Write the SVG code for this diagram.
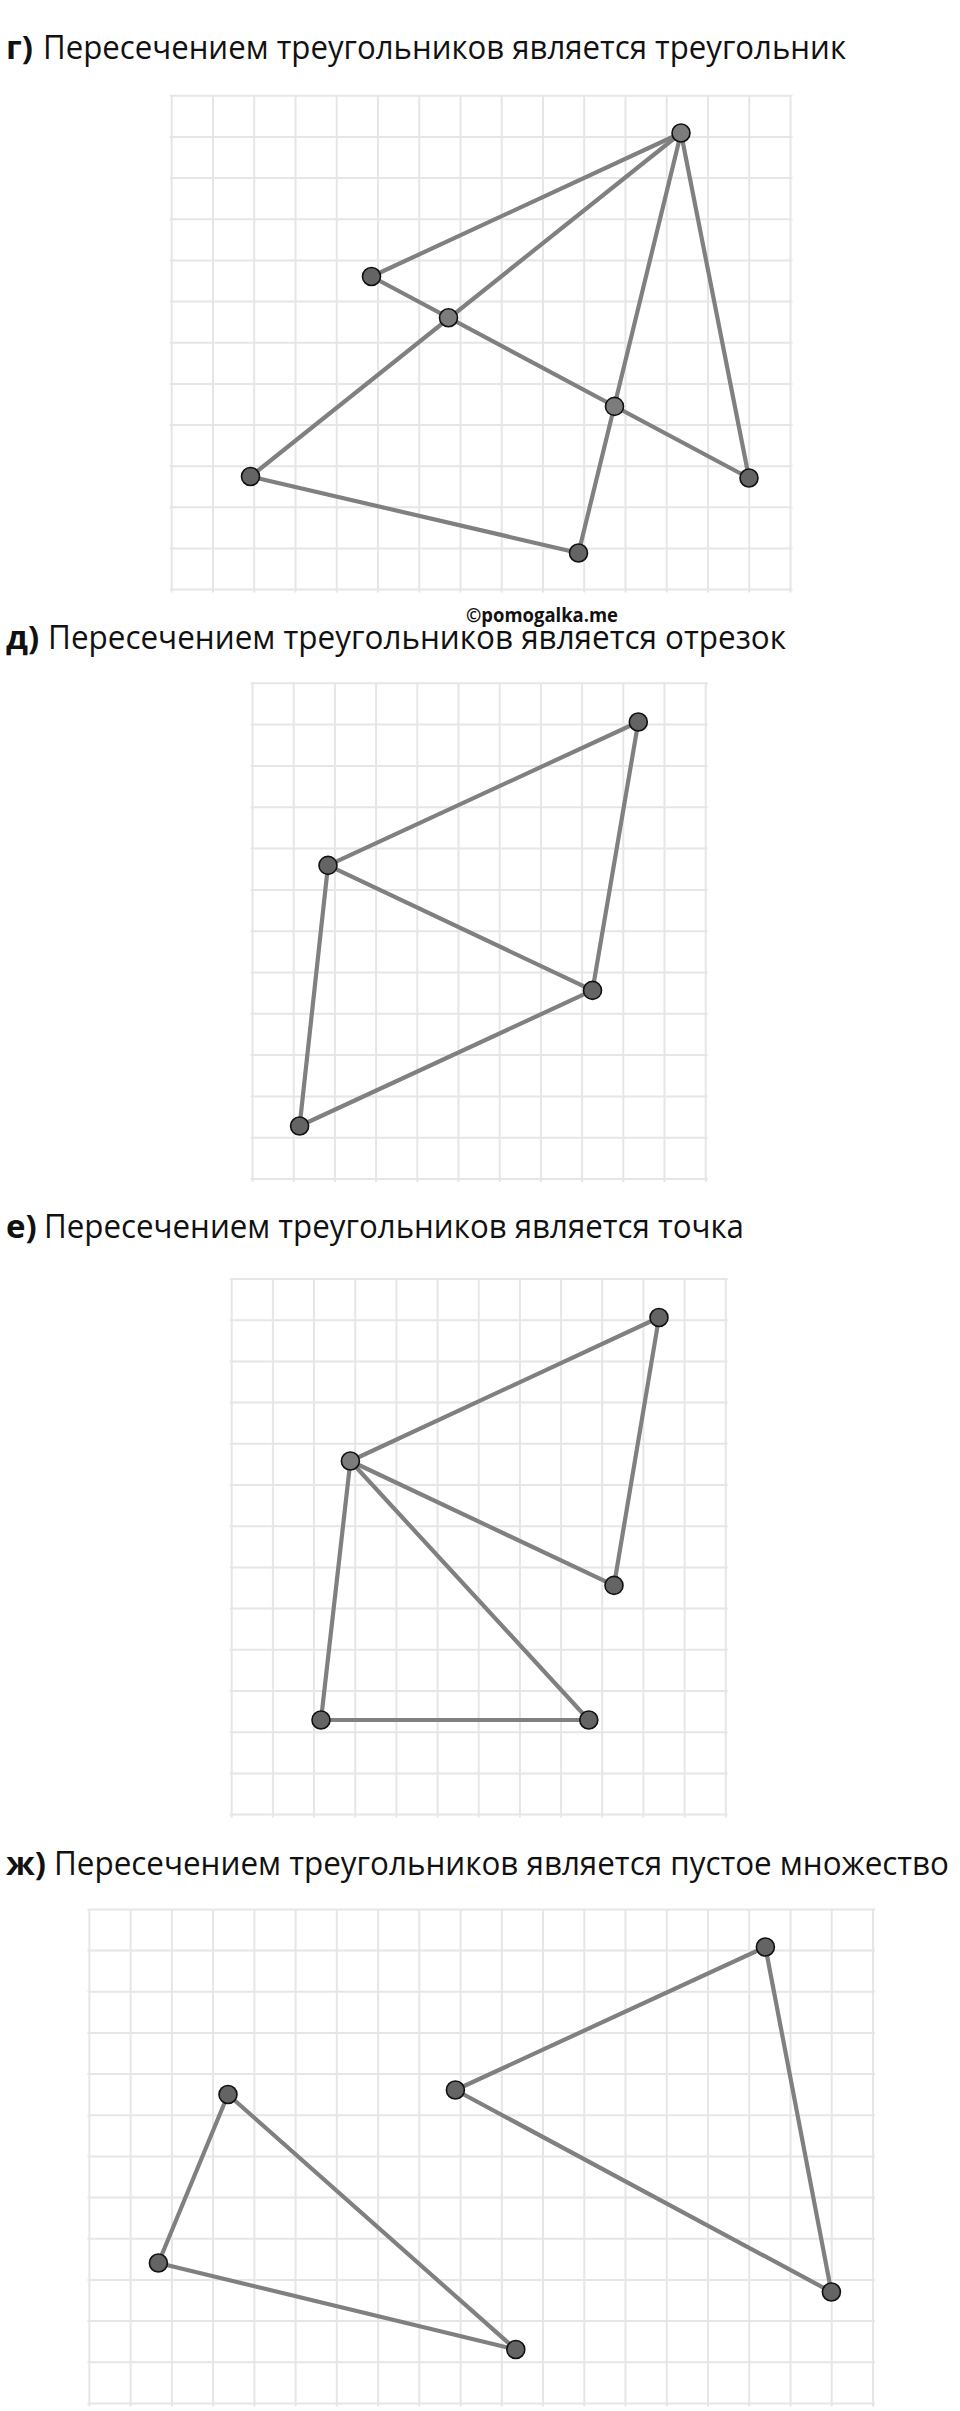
<svg xmlns="http://www.w3.org/2000/svg" width="960" height="2411" viewBox="0 0 960 2411">
<style>
.bg{fill:#ffffff}
.grid{stroke:#e6e6e6;stroke-width:2;fill:none}
.seg{stroke:#808080;stroke-width:4.2;stroke-linecap:round}
.pt{fill:#646464;stroke:#111111;stroke-width:1.6}
.pt2{fill:#7c7c7c;stroke:#111111;stroke-width:1.6}
.ttl{font-family:"Open Sans","Noto Sans","DejaVu Sans",sans-serif;font-size:33px;fill:#111111}
.pre{font-family:"Open Sans","Noto Sans","DejaVu Sans",sans-serif;font-size:33px;font-weight:700;fill:#111111}
.wm{font-family:"Open Sans","Noto Sans","DejaVu Sans",sans-serif;font-size:19px;font-weight:700;fill:#111111}
</style>
<rect class="bg" x="0" y="0" width="960" height="2411"/>

<!-- Titles -->
<text class="pre" x="6" y="59">г)</text>
<text class="ttl" x="43" y="59" textLength="803" lengthAdjust="spacingAndGlyphs">Пересечением треугольников является треугольник</text>
<text class="wm" x="466" y="622" textLength="152" lengthAdjust="spacingAndGlyphs">©pomogalka.me</text>
<text class="pre" x="6" y="649">д)</text>
<text class="ttl" x="48" y="649" textLength="738" lengthAdjust="spacingAndGlyphs">Пересечением треугольников является отрезок</text>
<text class="pre" x="6" y="1238">е)</text>
<text class="ttl" x="44" y="1238" textLength="700" lengthAdjust="spacingAndGlyphs">Пересечением треугольников является точка</text>
<text class="pre" x="6" y="1875">ж)</text>
<text class="ttl" x="54" y="1875" textLength="895" lengthAdjust="spacingAndGlyphs">Пересечением треугольников является пустое множество</text>

<!-- Grids -->
<g id="grid-g">
<path class="grid" d="M171.7 95.8V592.6M213 95.8V592.6M254.2 95.8V592.6M295.5 95.8V592.6M336.7 95.8V592.6M378 95.8V592.6M419.2 95.8V592.6M460.5 95.8V592.6M501.7 95.8V592.6M543 95.8V592.6M584.2 95.8V592.6M625.5 95.8V592.6M666.7 95.8V592.6M708 95.8V592.6M749.2 95.8V592.6M790.5 95.8V592.6
M169.7 95.8H792.5M169.7 137H792.5M169.7 178.1H792.5M169.7 219.3H792.5M169.7 260.4H792.5M169.7 301.6H792.5M169.7 342.7H792.5M169.7 383.9H792.5M169.7 425H792.5M169.7 466.2H792.5M169.7 507.3H792.5M169.7 548.5H792.5M169.7 589.6H792.5"/>
</g>
<g id="grid-d">
<path class="grid" d="M252.5 683.3V1182M293.7 683.3V1182M334.9 683.3V1182M376.1 683.3V1182M417.3 683.3V1182M458.5 683.3V1182M499.7 683.3V1182M540.9 683.3V1182M582.1 683.3V1182M623.3 683.3V1182M664.5 683.3V1182M705.7 683.3V1182
M250.5 683.3H707.7M250.5 724.6H707.7M250.5 765.9H707.7M250.5 807.2H707.7M250.5 848.5H707.7M250.5 889.9H707.7M250.5 931.2H707.7M250.5 972.5H707.7M250.5 1013.8H707.7M250.5 1055.1H707.7M250.5 1096.4H707.7M250.5 1137.7H707.7M250.5 1179H707.7"/>
</g>
<g id="grid-e">
<path class="grid" d="M231.7 1279V1817.6M272.9 1279V1817.6M314 1279V1817.6M355.2 1279V1817.6M396.4 1279V1817.6M437.6 1279V1817.6M478.7 1279V1817.6M519.9 1279V1817.6M561.1 1279V1817.6M602.2 1279V1817.6M643.4 1279V1817.6M684.6 1279V1817.6M725.7 1279V1817.6
M229.7 1279H727.7M229.7 1320.2H727.7M229.7 1361.4H727.7M229.7 1402.6H727.7M229.7 1443.8H727.7M229.7 1485H727.7M229.7 1526.2H727.7M229.7 1567.4H727.7M229.7 1608.6H727.7M229.7 1649.8H727.7M229.7 1691H727.7M229.7 1732.2H727.7M229.7 1773.4H727.7M229.7 1814.6H727.7"/>
</g>
<g id="grid-zh">
<path class="grid" d="M89.4 1909.4V2406.4M130.6 1909.4V2406.4M171.9 1909.4V2406.4M213.1 1909.4V2406.4M254.4 1909.4V2406.4M295.6 1909.4V2406.4M336.8 1909.4V2406.4M378.1 1909.4V2406.4M419.3 1909.4V2406.4M460.6 1909.4V2406.4M501.8 1909.4V2406.4M543 1909.4V2406.4M584.3 1909.4V2406.4M625.5 1909.4V2406.4M666.8 1909.4V2406.4M708 1909.4V2406.4M749.2 1909.4V2406.4M790.5 1909.4V2406.4M831.7 1909.4V2406.4M873 1909.4V2406.4
M87.4 1909.4H875M87.4 1950.6H875M87.4 1991.7H875M87.4 2032.9H875M87.4 2074.1H875M87.4 2115.2H875M87.4 2156.4H875M87.4 2197.6H875M87.4 2238.8H875M87.4 2279.9H875M87.4 2321.1H875M87.4 2362.3H875M87.4 2403.4H875"/>
</g>

<!-- Connectors -->
<g id="connectors">
<line class="seg" x1="681" y1="133" x2="371.5" y2="276.5"/>
<line class="seg" x1="371.5" y1="276.5" x2="749" y2="478"/>
<line class="seg" x1="749" y1="478" x2="681" y2="133"/>
<line class="seg" x1="681" y1="133" x2="250.5" y2="476.5"/>
<line class="seg" x1="250.5" y1="476.5" x2="578.5" y2="553"/>
<line class="seg" x1="578.5" y1="553" x2="681" y2="133"/>

<line class="seg" x1="638.3" y1="722" x2="328" y2="865.4"/>
<line class="seg" x1="328" y1="865.4" x2="592.5" y2="990.4"/>
<line class="seg" x1="592.5" y1="990.4" x2="638.3" y2="722"/>
<line class="seg" x1="328" y1="865.4" x2="299.6" y2="1126"/>
<line class="seg" x1="299.6" y1="1126" x2="592.5" y2="990.4"/>

<line class="seg" x1="659" y1="1317.5" x2="350.4" y2="1461"/>
<line class="seg" x1="350.4" y1="1461" x2="614" y2="1585.4"/>
<line class="seg" x1="614" y1="1585.4" x2="659" y2="1317.5"/>
<line class="seg" x1="350.4" y1="1461" x2="321" y2="1720"/>
<line class="seg" x1="321" y1="1720" x2="588.8" y2="1720"/>
<line class="seg" x1="588.8" y1="1720" x2="350.4" y2="1461"/>

<line class="seg" x1="765.4" y1="1947" x2="455.4" y2="2090"/>
<line class="seg" x1="455.4" y1="2090" x2="831.4" y2="2292"/>
<line class="seg" x1="831.4" y1="2292" x2="765.4" y2="1947"/>
<line class="seg" x1="228" y1="2094.5" x2="158.4" y2="2263"/>
<line class="seg" x1="158.4" y1="2263" x2="515.8" y2="2349.5"/>
<line class="seg" x1="515.8" y1="2349.5" x2="228" y2="2094.5"/>
</g>

<!-- Points -->
<g id="g-A"><circle class="pt2" cx="681" cy="133" r="9"/></g>
<g id="g-B"><circle class="pt" cx="371.5" cy="276.5" r="9"/></g>
<g id="g-C"><circle class="pt2" cx="448.5" cy="317.7" r="9"/></g>
<g id="g-D"><circle class="pt2" cx="614.5" cy="406.4" r="9"/></g>
<g id="g-E"><circle class="pt" cx="749" cy="478" r="9"/></g>
<g id="g-F"><circle class="pt" cx="250.5" cy="476.5" r="9"/></g>
<g id="g-G"><circle class="pt" cx="578.5" cy="553" r="9"/></g>

<g id="d-1"><circle class="pt" cx="638.3" cy="722" r="9"/></g>
<g id="d-2"><circle class="pt" cx="328" cy="865.4" r="9"/></g>
<g id="d-3"><circle class="pt" cx="592.5" cy="990.4" r="9"/></g>
<g id="d-4"><circle class="pt" cx="299.6" cy="1126" r="9"/></g>

<g id="e-1"><circle class="pt" cx="659" cy="1317.5" r="9"/></g>
<g id="e-2"><circle class="pt2" cx="350.4" cy="1461" r="9"/></g>
<g id="e-3"><circle class="pt" cx="614" cy="1585.4" r="9"/></g>
<g id="e-4"><circle class="pt" cx="321" cy="1720" r="9"/></g>
<g id="e-5"><circle class="pt" cx="588.8" cy="1720" r="9"/></g>

<g id="zh-1"><circle class="pt" cx="765.4" cy="1947" r="9"/></g>
<g id="zh-2"><circle class="pt" cx="455.4" cy="2090" r="9"/></g>
<g id="zh-3"><circle class="pt" cx="831.4" cy="2292" r="9"/></g>
<g id="zh-4"><circle class="pt" cx="228" cy="2094.5" r="9"/></g>
<g id="zh-5"><circle class="pt" cx="158.4" cy="2263" r="9"/></g>
<g id="zh-6"><circle class="pt" cx="515.8" cy="2349.5" r="9"/></g>
</svg>
